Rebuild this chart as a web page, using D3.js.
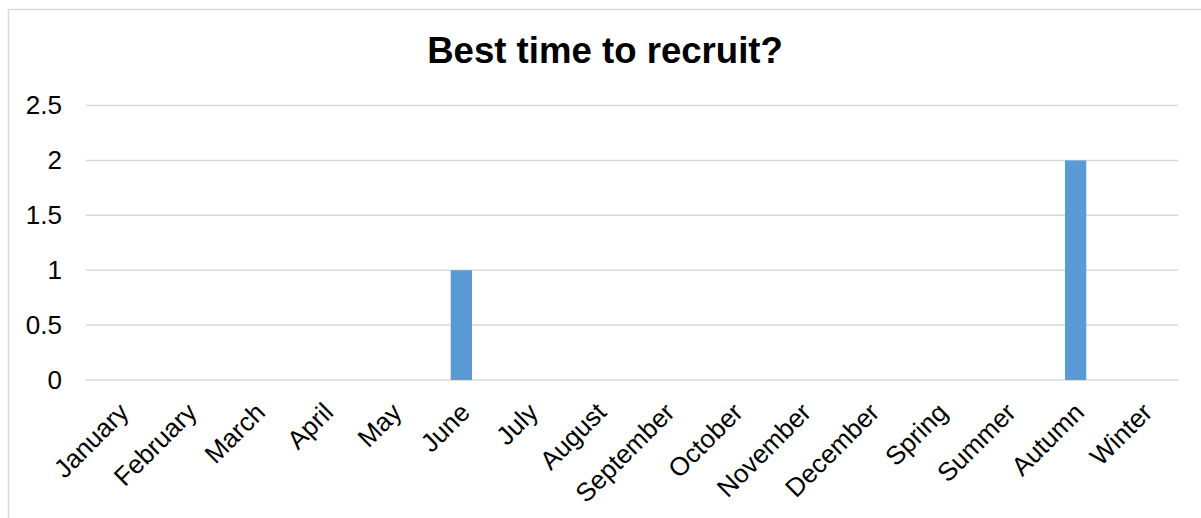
<!DOCTYPE html>
<html>
<head>
<meta charset="utf-8">
<script src="https://cdn.jsdelivr.net/npm/d3@7"></script>
<style>
  html, body { margin: 0; padding: 0; background: #fff; }
  svg { display: block; }
  text { font-family: "Liberation Sans", Arial, sans-serif; fill: #000; }
</style>
</head>
<body>
<svg id="chart" width="1201" height="518"></svg>
<script>
// Survey responses: preferred recruiting period
const categories = ["January", "February", "March", "April", "May", "June", "July",
  "August", "September", "October", "November", "December",
  "Spring", "Summer", "Autumn", "Winter"];
const counts = [0, 0, 0, 0, 0, 1, 0, 0, 0, 0, 0, 0, 0, 0, 2, 0];
const yTicks = [0, 0.5, 1, 1.5, 2, 2.5];
const chartTitle = "Best time to recruit?";

const W = 1201, H = 518;
const plot = { left: 86, right: 1178, top: 105.5, bottom: 380 };
const labelSize = 26;

const svg = d3.select("#chart");

// outer chart frame
svg.append("rect")
  .attr("x", 8.5).attr("y", 9.5)
  .attr("width", W + 20).attr("height", H + 20)
  .attr("fill", "#fff")
  .attr("stroke", "#d9d9d9").attr("stroke-width", 1.5);

const x = d3.scaleBand()
  .domain(categories)
  .range([plot.left, plot.right])
  .paddingInner(0.688).paddingOuter(0.344);

const y = d3.scaleLinear()
  .domain([0, 2.5])
  .range([plot.bottom, plot.top]);

// horizontal gridlines
svg.append("g")
  .selectAll("line")
  .data(yTicks)
  .join("line")
  .attr("x1", plot.left).attr("x2", plot.right)
  .attr("y1", d => y(d)).attr("y2", d => y(d))
  .attr("stroke", "#d9d9d9").attr("stroke-width", 1.5);

// y-axis labels
const yAxis = d3.axisLeft(y).tickValues(yTicks).tickSize(0).tickPadding(0)
  .tickFormat(d3.format("~g"));
const gy = svg.append("g")
  .attr("transform", `translate(${plot.left - 24},0)`)
  .call(yAxis);
gy.select(".domain").remove();
gy.selectAll("text")
  .attr("font-size", labelSize)
  .attr("font-family", "Liberation Sans, Arial, sans-serif")
  .attr("fill", "#000");

// bars
svg.append("g")
  .selectAll("rect")
  .data(categories.map((c, i) => ({ c, v: counts[i] })).filter(d => d.v > 0))
  .join("rect")
  .attr("x", d => x(d.c))
  .attr("width", x.bandwidth())
  .attr("y", d => y(d.v))
  .attr("height", d => y(0) - y(d.v))
  .attr("fill", "#5b9bd5");

// x-axis category labels, rotated
const xAxis = d3.axisBottom(x).tickSize(0).tickPadding(0);
const gx = svg.append("g")
  .attr("transform", `translate(0,${plot.bottom})`)
  .call(xAxis);
gx.select(".domain").remove();
gx.selectAll("text")
  .attr("font-size", labelSize)
  .attr("font-family", "Liberation Sans, Arial, sans-serif")
  .attr("fill", "#000")
  .attr("text-anchor", "end")
  .attr("dy", 0)
  .attr("y", 0)
  .attr("transform", "translate(10,34) rotate(-45)");

// title
svg.append("text")
  .attr("x", 605).attr("y", 63)
  .attr("text-anchor", "middle")
  .attr("font-size", 36.6)
  .attr("font-weight", "bold")
  .text(chartTitle);
</script>
</body>
</html>
